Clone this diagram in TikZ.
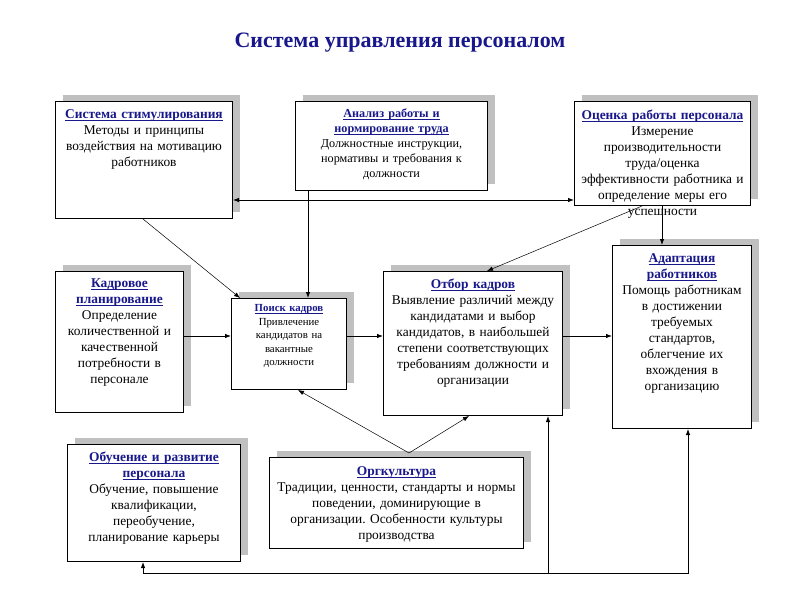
\documentclass[tikz,border=0pt]{standalone}
\usepackage{fontspec}
\setmainfont{Liberation Serif}
\usetikzlibrary{positioning, arrows.meta, shadows}
\frenchspacing

\definecolor{hdblue}{RGB}{24,24,140}
\definecolor{shgray}{RGB}{192,192,192}
% bold blue heading, underlined close to the baseline
\newcommand{\hd}[1]{\leavevmode{\color{hdblue}\bfseries\setbox0\hbox{#1}\rlap{\rule[-1.7pt]{\wd0}{0.6pt}}\box0}}

\begin{document}
\begin{tikzpicture}
[
    x=1pt, y=-1pt, line width=0.8pt, >={Latex[length=6pt, width=4.5pt]},
    % every box is placed by its north west corner (pixel grid of the slide)
    % box names: stim, anal, ocen, kadr, poisk, otbor, adapt, obuch, org
]

%=================================== Start ===================================
\tikzstyle{blk}  = [draw, fill=white, line width=1pt, anchor=north west, align=center,
    inner xsep=2pt, inner ysep=2pt, font=\fontsize{13.4}{16}\selectfont,
    drop shadow={shadow xshift=7pt, shadow yshift=7pt, opacity=1, fill=shgray}]
\tikzstyle{lnk}  = [->, line width=0.8pt]
\tikzstyle{diag} = [->, line width=0.5pt]
\tikzstyle{ttl}  = [font=\fontsize{22}{26}\selectfont\bfseries, text=hdblue]

\path[use as bounding box, fill=white] (0,0) rectangle (800,600);

\node[ttl] (title) at (400,43) {Система управления персоналом};

% Top row
\node[blk, text width=173pt, text height=15pt, text depth=98pt] (stim) at (55,101)
    {\hd{Система стимулирования}\\Методы и принципы\\воздействия на мотивацию\\работников};
\node[blk, text width=188pt, text height=14pt, text depth=71pt,
      font=\fontsize{12.2}{15}\selectfont] (anal) at (295,101)
    {\hd{Анализ работы и}\\\hd{нормирование труда}\\Должностные инструкции,\\нормативы и требования к\\должности};
\node[blk, text width=172pt, text height=16pt, text depth=84pt] (ocen) at (574,101)
    {\hd{Оценка работы персонала}\\Измерение\\производительности\\труда/оценка\\эффективности работника и\\определение меры его\\успешности};

% Middle row
\node[blk, text width=124pt, text height=14pt, text depth=123pt] (kadr) at (55,271)
    {\hd{Кадровое}\\\hd{планирование}\\Определение\\количественной и\\качественной\\потребности в\\персонале};
\node[blk, text width=111pt, text height=11pt, text depth=76pt,
      font=\fontsize{10.8}{13.5}\selectfont] (poisk) at (231,298)
    {\hd{Поиск кадров}\\Привлечение\\кандидатов на\\вакантные\\должности};
\node[blk, text width=175pt, text height=15pt, text depth=125pt] (otbor) at (383,271)
    {\hd{Отбор кадров}\\Выявление различий между\\кандидатами и выбор\\кандидатов, в наибольшей\\степени соответствующих\\требованиям должности и\\организации};
\node[blk, text width=135pt, text height=15pt, text depth=164pt] (adapt) at (612,245)
    {\hd{Адаптация}\\\hd{работников}\\Помощь работникам\\в достижении\\требуемых\\стандартов,\\облегчение их\\вхождения в\\организацию};

% Bottom row
\node[blk, text width=169pt, text height=15pt, text depth=98pt] (obuch) at (67,444)
    {\hd{Обучение и развитие}\\\hd{персонала}\\Обучение, повышение\\квалификации,\\переобучение,\\планирование карьеры};
\node[blk, text width=250pt, text height=16pt, text depth=71pt] (org) at (269,457)
    {\hd{Оргкультура}\\Традиции, ценности, стандарты и нормы\\поведении, доминирующие в\\организации. Особенности культуры\\производства};

% Helper rows for the straight connectors
\coordinate (top) at (0,200);
\coordinate (mid) at (0,336);
\coordinate (bus) at (0,573);
\coordinate (apex) at (409,453);

% Horizontal connections
\draw[<->] (stim.east |- top) -- (ocen.west |- top);
\foreach \a / \b in {kadr/poisk, poisk/otbor, otbor/adapt}
    \draw[lnk] (\a.east |- mid) -- (\b.west |- mid);

% Vertical connections
\draw[lnk] ([xshift=13pt]anal.south west) -- ([xshift=13pt]anal.south west |- poisk.north);
\draw[lnk] ([xshift=88pt]ocen.south west) -- ([xshift=88pt]ocen.south west |- adapt.north);

% Diagonal connections
\draw[diag] ([xshift=88pt]stim.south west) -- ([xshift=9pt]poisk.north west);
\draw[diag] ([xshift=68pt]ocen.south west) -- ([xshift=104pt]otbor.north west);
\draw[diag] (apex) -- ([xshift=67pt]poisk.south west);
\draw[diag] (apex) -- ([xshift=86pt]otbor.south west);

% Feedback line along the bottom
\draw[<->] ([xshift=76pt]adapt.south west) -- ([xshift=76pt]adapt.south west |- bus)
    -- ([xshift=76pt]obuch.south west |- bus) -- ([xshift=76pt]obuch.south west);
\draw[lnk] ([xshift=165pt]otbor.south west |- bus) -- ([xshift=165pt]otbor.south west);
%==================================== END ====================================

\end{tikzpicture}
\end{document}
